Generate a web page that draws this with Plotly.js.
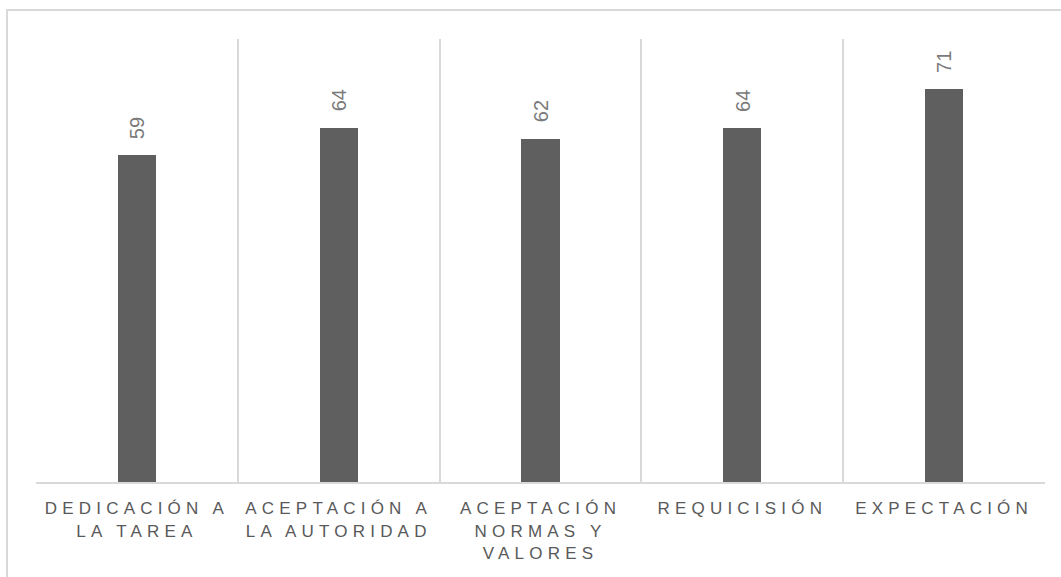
<!DOCTYPE html>
<html>
<head>
<meta charset="utf-8">
<script src="https://cdn.plot.ly/plotly-3.0.1.min.js"></script>
<style>
  html, body { margin: 0; padding: 0; background: #ffffff; overflow: hidden; }
  #wrap { position: relative; width: 1061px; height: 577px; overflow: hidden; }
  #frame {
    position: absolute; left: 6px; top: 9px; width: 1200px; height: 700px;
    border: 2px solid #d9d9d9; box-sizing: border-box; pointer-events: none;
  }
  #chart { position: absolute; left: 0; top: 0; width: 1061px; height: 577px; }
  .xtick text { letter-spacing: 5.2px; }
</style>
</head>
<body>
<div id="wrap">
  <div id="chart"></div>
  <div id="frame"></div>
</div>
<script>
// Dimensiones evaluadas y su puntaje
const categorias = [
  'DEDICACIÓN A<br>LA TAREA',
  'ACEPTACIÓN A<br>LA AUTORIDAD',
  'ACEPTACIÓN<br>NORMAS Y<br>VALORES',
  'REQUICISIÓN',
  'EXPECTACIÓN'
];
const valores = [59, 64, 62, 64, 71];

const barras = {
  type: 'bar',
  x: categorias,
  y: valores,
  width: 0.19,
  marker: { color: '#5f5f5f' },
  hoverinfo: 'x+y'
};

// Etiquetas de valor giradas sobre cada barra
const etiquetas = categorias.map((c, i) => ({
  x: c,
  y: valores[i],
  xref: 'x',
  yref: 'y',
  text: String(valores[i]),
  textangle: -90,
  showarrow: false,
  yanchor: 'bottom',
  xanchor: 'center',
  yshift: 14,
  font: { family: 'Liberation Sans, Arial, sans-serif', size: 20, color: '#7a7a7a' }
}));

// Separadores verticales entre categorías
const separadores = [];
for (let i = 0; i <= categorias.length; i++) separadores.push(i - 0.5);

const layout = {
  width: 1061,
  height: 577,
  margin: { l: 36, r: 16, t: 39, b: 95 },
  paper_bgcolor: '#ffffff',
  plot_bgcolor: '#ffffff',
  showlegend: false,
  bargap: 0,
  xaxis: {
    type: 'category',
    range: [-0.5, categorias.length - 0.5],
    showgrid: false,
    zeroline: false,
    showline: true,
    linecolor: '#d9d9d9',
    linewidth: 2,
    ticks: '',
    tickangle: 0,
    ticklabelstandoff: 10,
    tickfont: { family: 'Liberation Sans, Arial, sans-serif', size: 17, color: '#595959' }
  },
  xaxis2: {
    type: 'linear',
    overlaying: 'x',
    range: [-0.5, categorias.length - 0.5],
    tickmode: 'array',
    tickvals: separadores,
    showticklabels: false,
    showgrid: true,
    gridcolor: '#d9d9d9',
    gridwidth: 2,
    zeroline: false,
    ticks: ''
  },
  yaxis: {
    range: [0, 80],
    showgrid: false,
    zeroline: false,
    showline: false,
    showticklabels: false,
    ticks: ''
  },
  annotations: etiquetas
};

// Traza vacía que activa el eje secundario de separadores
const ejeSeparadores = {
  type: 'scatter',
  x: separadores,
  y: separadores.map(() => null),
  xaxis: 'x2',
  mode: 'lines',
  hoverinfo: 'skip'
};

Plotly.newPlot('chart', [ejeSeparadores, barras], layout, { displayModeBar: false, staticPlot: true });
</script>
</body>
</html>
